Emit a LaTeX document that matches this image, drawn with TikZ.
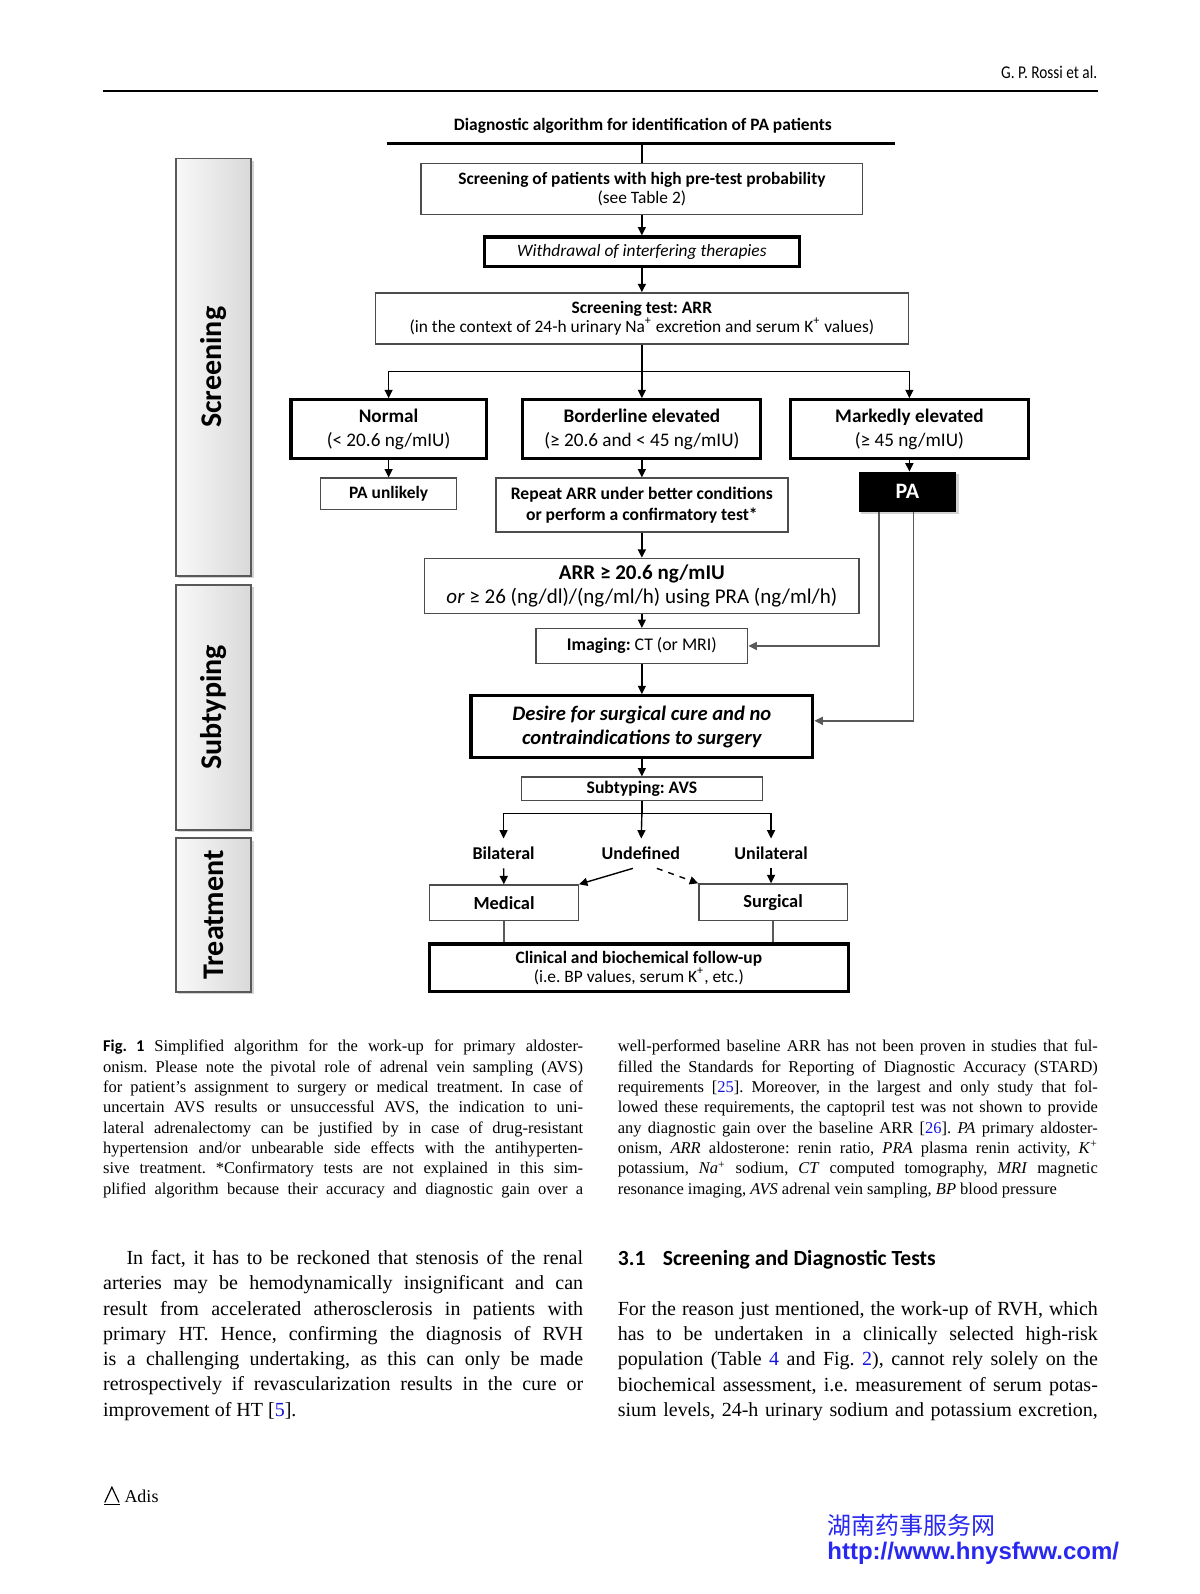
\documentclass[tikz,border=0pt]{standalone}
\usepackage{fontspec}
\setmainfont{Liberation Serif}
\newfontfamily\calibri{Carlito}
\newfontfamily\headsans[FakeStretch=0.85]{Carlito}
\newfontfamily\cjkfont{Noto Sans CJK SC}
\newfontfamily\arialfont{Liberation Sans}
\usetikzlibrary{arrows.meta,shadows,positioning}
\definecolor{refblue}{RGB}{20,20,220}
\definecolor{wmblue}{RGB}{40,40,240}
\newcommand\refc[1]{\textcolor{refblue}{#1}}
\newcommand\fsz[2]{\fontsize{#1}{#2}\selectfont}
\newcommand\fullline{\parfillskip=0pt\par}
\tolerance=10000
\hyphenpenalty=10000
\exhyphenpenalty=10000
\frenchspacing

\begin{document}
\begin{tikzpicture}[x=0.5086pt, y=-0.5086pt,
  sz/.style 2 args={minimum width=#1*0.5086pt, minimum height=#2*0.5086pt},
  box/.style={draw=black!70, line width=0.7pt, inner sep=0pt, align=center, font=\calibri\fsz{8.7}{9.3}},
  boldbox/.style={box, draw=black, line width=1.6pt},
  side/.style={draw=black!65, line width=0.8pt, left color=gray!5, right color=gray!30, rotate=90, inner sep=0pt,
    font=\calibri\bfseries\fsz{15}{18}, drop shadow={shadow xshift=1.2pt, shadow yshift=-1.2pt, opacity=0.35}},
  lbl/.style={inner sep=4pt, text height=6.5pt, text depth=0pt, font=\calibri\bfseries\fsz{9}{10}},
  arr/.style={-{Triangle[length=4.2pt, width=4pt]}, line width=0.7pt},
  link/.style={line width=0.7pt},
  captext/.style={text width=240pt, align=justify, inner sep=0pt, anchor=base west, font=\fsz{8.25}{10.17}},
  bodytext/.style={text width=240pt, align=justify, inner sep=0pt, anchor=base west, font=\fsz{10}{12.65}},
]
  \fill[white] (0,0) rectangle (1179.6,1567);
  \useasboundingbox (0,0) rectangle (1179.6,1567);

  \node[anchor=base east, inner sep=0pt, font=\headsans\fsz{9}{10}] (author) at (1079,77) {G. P. Rossi et al.};
  \draw[line width=1pt] (101,89) -- (1079,89);

  \node[font=\calibri\bfseries\fsz{8.7}{10}, inner sep=0pt] (title) at (632,124) {Diagnostic algorithm for identification of PA patients};
  \draw[line width=1.6pt] (380,141) -- (880,141);
  \coordinate (top) at (631,141);

  \node[side, sz={410}{74}] (sScreen) at (210,361) {Screening};
  \node[side, sz={241}{74}] (sSub) at (210,695.5) {Subtyping};
  \node[side, sz={151}{74}] (sTreat) at (210,899.5) {Treatment};

  \node[box, sz={434}{50}] (screen) at (631,186) {\textbf{Screening of patients with high pre-test probability}\\(see Table 2)};
  \node[boldbox, sz={310}{29}, font=\calibri\itshape\fsz{8.7}{9.3}] (withdraw) at (631,247.5) {Withdrawal of interfering therapies};
  \node[box, sz={524}{50}] (test) at (631,313) {\textbf{Screening test: ARR}\\(in the context of 24-h urinary Na\textsuperscript{+} excretion and serum K\textsuperscript{+} values)};
  \node[boldbox, sz={192}{58}, font=\calibri\fsz{9.6}{11.7}] (normal) at (382,422) {\textbf{Normal}\\(< 20.6 ng/mIU)};
  \node[boldbox, sz={234}{58}, font=\calibri\fsz{9.6}{11.7}] (border) at (631,422) {\textbf{Borderline elevated}\\(≥ 20.6 and < 45 ng/mIU)};
  \node[boldbox, sz={234}{58}, font=\calibri\fsz{9.6}{11.7}] (marked) at (894,422) {\textbf{Markedly elevated}\\(≥ 45 ng/mIU)};
  \node[box, sz={134}{31}, font=\calibri\bfseries\fsz{8.7}{10}] (unlikely) at (382,485.5) {PA unlikely};
  \node[box, sz={287}{53}, font=\calibri\bfseries\fsz{8.8}{10.7}] (repeat) at (631,496.5) {Repeat ARR under better conditions\\or perform a confirmatory test*};
  \node[fill=black, text=white, inner sep=0pt, sz={96}{39}, font=\calibri\bfseries\fsz{11}{12},
    drop shadow={shadow xshift=1.2pt, shadow yshift=-1.2pt, fill=gray!70}] (pa) at (892,483.5) {PA};
  \node[box, sz={427}{54}, font=\calibri\fsz{10.5}{12.2}] (arr) at (631,576) {\textbf{ARR ≥ 20.6 ng/mIU}\\\textit{or} ≥ 26 (ng/dl)/(ng/ml/h) using PRA (ng/ml/h)};
  \node[box, sz={208}{34}, font=\calibri\fsz{8.9}{10}] (imaging) at (631,635) {\textbf{Imaging:} CT (or MRI)};
  \node[boldbox, sz={336}{61}, font=\calibri\bfseries\itshape\fsz{10.3}{12.2}] (desire) at (631,714.5) {Desire for surgical cure and no\\contraindications to surgery};
  \node[box, sz={237}{23}, font=\calibri\bfseries\fsz{8.8}{10}] (avs) at (631,775.5) {Subtyping: AVS};
  \node[lbl] (bilat) at (495,839) {Bilateral};
  \node[lbl] (undef) at (630,839) {Undefined};
  \node[lbl] (unilat) at (758,839) {Unilateral};
  \node[box, sz={146}{35}, font=\calibri\bfseries\fsz{9.2}{10}] (medical) at (495.5,887.5) {Medical};
  \node[box, sz={146}{36}, font=\calibri\bfseries\fsz{9.2}{10}] (surgical) at (760,887) {Surgical};
  \node[boldbox, sz={412}{47}] (followup) at (628,951.5) {\textbf{Clinical and biochemical follow-up}\\(i.e. BP values, serum K\textsuperscript{+}, etc.)};

  \draw[link] (top) -- (screen);
  \draw[arr] (screen) -- (withdraw);
  \draw[arr] (withdraw) -- (test);
  \coordinate (split1) at (631,365);
  \draw[link] (test) -- (split1);
  \draw[arr] (split1) -| (normal);
  \draw[arr] (split1) -- (border);
  \draw[arr] (split1) -| (marked);
  \draw[arr] (normal) -- (unlikely);
  \draw[arr] (border) -- (repeat);
  \draw[arr] (marked) -- (marked |- pa.north);
  \draw[arr] (repeat) -- (arr);
  \draw[arr] (arr) -- (imaging);
  \draw[arr, draw=black!65] ([xshift=-14.2pt]pa.south) |- (imaging);
  \draw[arr, draw=black!65] ([xshift=3pt]pa.south) |- ([yshift=3pt]desire.east);
  \draw[arr] (imaging) -- (desire);
  \draw[arr] (desire) -- (avs);
  \coordinate (split2) at (631,800);
  \draw[link] (avs) -- (split2);
  \draw[arr] (split2) -| (bilat);
  \draw[arr] (split2) -- (undef);
  \draw[arr] (split2) -| (unilat);
  \draw[arr] (bilat) -- (medical);
  \draw[arr] (unilat) -- (unilat |- surgical.north);
  \draw[arr] ([xshift=-4pt]undef.south) -- (medical.north east);
  \draw[arr, dashed] ([xshift=8pt]undef.south) -- (surgical.north west);
  \draw[link, draw=black!65] (medical) -- (medical |- followup.north);
  \draw[link, draw=black!65] (surgical) -- (surgical |- followup.north);

  \node[captext] (capL) at (101,1034) {{\calibri\bfseries Fig.~1}\hspace{0.6em}Simplified algorithm for the work-up for primary aldoster-\linebreak
    onism. Please note the pivotal role of adrenal vein sampling (AVS)\linebreak
    for patient’s assignment to surgery or medical treatment. In case of\linebreak
    uncertain AVS results or unsuccessful AVS, the indication to uni-\linebreak
    lateral adrenalectomy can be justified by in case of drug-resistant\linebreak
    hypertension and/or unbearable side effects with the antihyperten-\linebreak
    sive treatment. *Confirmatory tests are not explained in this sim-\linebreak
    plified algorithm because their accuracy and diagnostic gain over a\fullline};
  \node[captext] (capR) at (607,1034) {well-performed baseline ARR has not been proven in studies that ful-\linebreak
    filled the Standards for Reporting of Diagnostic Accuracy (STARD)\linebreak
    requirements [\refc{25}]. Moreover, in the largest and only study that fol-\linebreak
    lowed these requirements, the captopril test was not shown to provide\linebreak
    any diagnostic gain over the baseline ARR [\refc{26}]. \textit{PA} primary aldoster-\linebreak
    onism, \textit{ARR} aldosterone: renin ratio, \textit{PRA} plasma renin activity, \textit{K}\textsuperscript{+}\linebreak
    potassium, \textit{Na}\textsuperscript{+} sodium, \textit{CT} computed tomography, \textit{MRI} magnetic\linebreak
    resonance imaging, \textit{AVS} adrenal vein sampling, \textit{BP} blood pressure};

  \node[bodytext] (bodyL) at (101,1243) {\hspace*{11.7pt}In fact, it has to be reckoned that stenosis of the renal\linebreak
    arteries may be hemodynamically insignificant and can\linebreak
    result from accelerated atherosclerosis in patients with\linebreak
    primary HT. Hence, confirming the diagnosis of RVH\linebreak
    is a challenging undertaking, as this can only be made\linebreak
    retrospectively if revascularization results in the cure or\linebreak
    improvement of HT [\refc{5}].};
  \node[font=\calibri\bfseries\fsz{10.8}{12}, anchor=base west, inner sep=0pt] (sec) at (607,1244) {3.1\hspace{0.8em}Screening and Diagnostic Tests};
  \node[bodytext] (bodyR) at (607,1293) {For the reason just mentioned, the work-up of RVH, which\linebreak
    has to be undertaken in a clinically selected high-risk\linebreak
    population (Table \refc{4} and Fig.~\refc{2}), cannot rely solely on the\linebreak
    biochemical assessment, i.e. measurement of serum potas-\linebreak
    sium levels, 24-h urinary sodium and potassium excretion,\fullline};

  \draw[line width=0.6pt, line join=miter] (103,1477) -- (110,1462) -- (117,1477);
  \draw[line width=0.9pt] (102,1479) -- (118,1479);
  \node[anchor=base west, inner sep=0pt, font=\fsz{9}{10}] (adis) at (122,1477) {Adis};
  \node[anchor=base west, inner sep=0pt, font=\cjkfont\fsz{12}{14}, text=wmblue] (wmcn) at (813,1508) {湖南药事服务网};
  \node[anchor=base west, inner sep=0pt, font=\arialfont\bfseries\fsz{12}{13}, text=wmblue] (wmurl) at (813,1533) {http://www.hnysfww.com/};
\end{tikzpicture}
\end{document}
